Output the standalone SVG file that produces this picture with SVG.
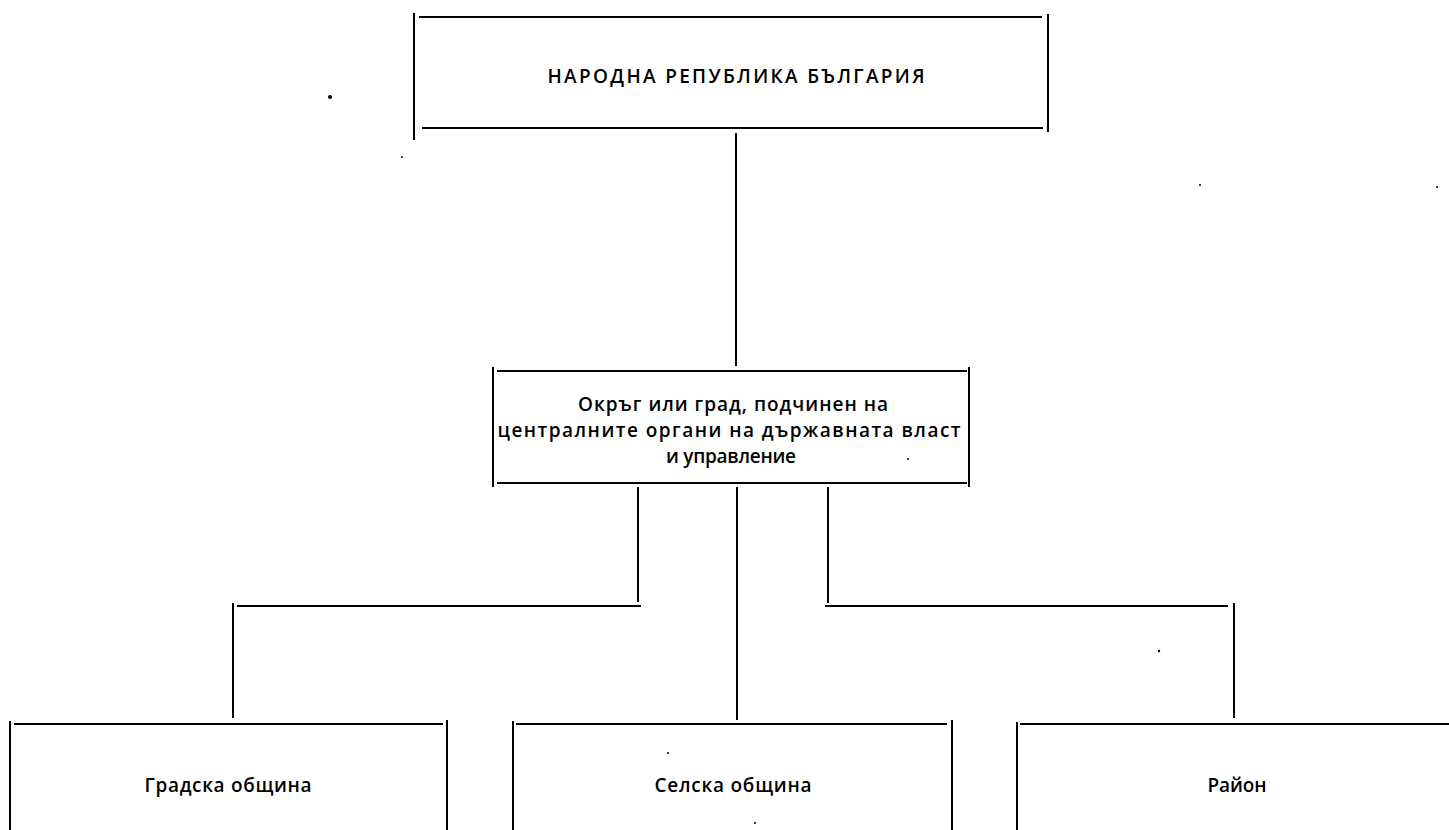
<svg xmlns="http://www.w3.org/2000/svg" width="1449" height="830" viewBox="0 0 1449 830">
<style>
.ln{stroke:#000;stroke-width:2;fill:none;stroke-linecap:butt}
.t{font-family:"Open Sans","Noto Sans","DejaVu Sans",sans-serif;font-weight:600;fill:#000;text-anchor:middle}
.cap{font-size:19px}
.lb{font-size:19px}
.dot{fill:#000}
</style>
<rect width="1449" height="830" fill="#fff"/>
<g id="node-nrb">
<path class="ln" d="M414,13V140M419,17H1042M1048,14V132M422,128H1043"/>
<text class="t cap" x="736" y="83" textLength="377" lengthAdjust="spacing">НАРОДНА РЕПУБЛИКА  БЪЛГАРИЯ</text>
</g>
<g id="node-okrag">
<path class="ln" d="M493,367V487M497,371H967M969,367V487M497,483H967"/>
<text class="t lb" x="733" y="411" textLength="310" lengthAdjust="spacing">Окръг или  град, подчинен на</text>
<text class="t lb" x="729" y="437" textLength="463" lengthAdjust="spacing">централните органи на държавната власт</text>
<text class="t lb" x="731" y="463" textLength="130" lengthAdjust="spacing">и  управление</text>
</g>
<g id="node-gradska">
<path class="ln" d="M10,721V830M14,724H443M447,720V830"/>
<text class="t lb" x="228" y="792" textLength="167" lengthAdjust="spacing">Градска  община</text>
</g>
<g id="node-selska">
<path class="ln" d="M513,721V830M516,724H947M952,720V830"/>
<text class="t lb" x="733" y="792" textLength="157" lengthAdjust="spacing">Селска  община</text>
</g>
<g id="node-rayon">
<path class="ln" d="M1017,722V830M1020,724H1449"/>
<text class="t lb" x="1237" y="792" textLength="59" lengthAdjust="spacing">Район</text>
</g>
<g id="connectors">
<path class="ln" d="M736,133V366"/>
<path class="ln" d="M638,487V602M641,606H237M233,603V718"/>
<path class="ln" d="M737,487V720"/>
<path class="ln" d="M828,487V603M825,606H1228M1234,603V718"/>
</g>
<g id="specks">
<circle class="dot" cx="330" cy="97" r="2"/>
<circle class="dot" cx="402" cy="157" r="1"/>
<circle class="dot" cx="1200" cy="185" r="1"/>
<circle class="dot" cx="1437" cy="187" r="1"/>
<circle class="dot" cx="908" cy="459" r="1"/>
<circle class="dot" cx="1159" cy="651" r="1.2"/>
<circle class="dot" cx="668" cy="753" r="1"/>
<circle class="dot" cx="755" cy="823" r="1"/>
</g>
</svg>
